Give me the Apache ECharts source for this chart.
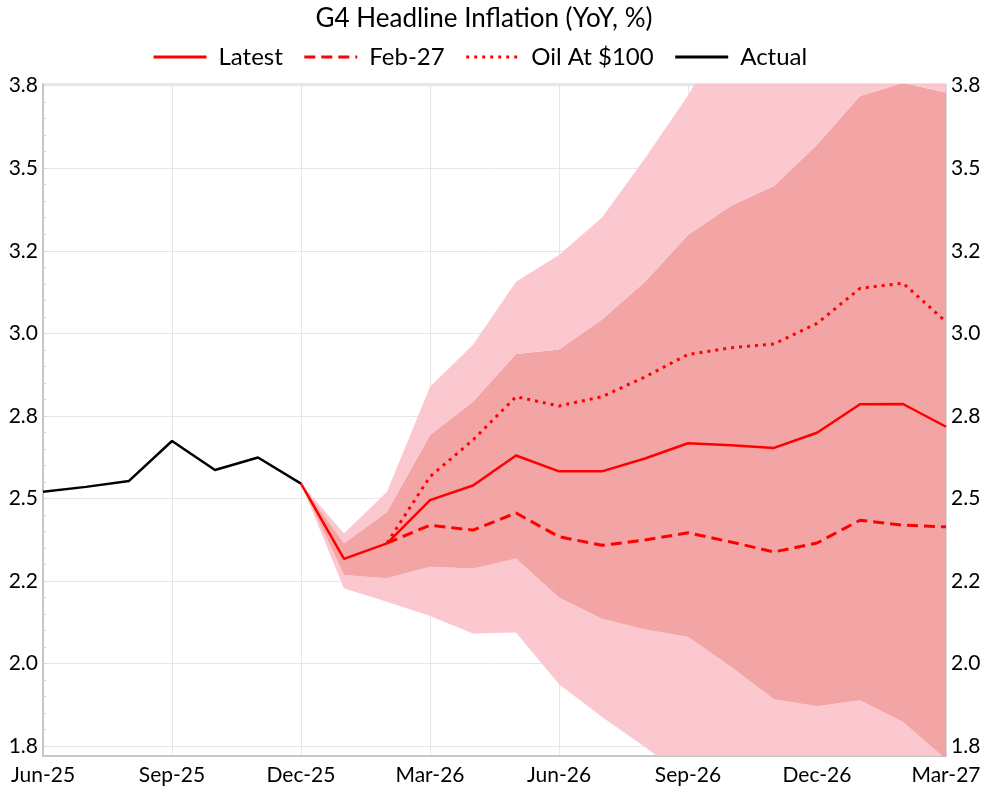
<!DOCTYPE html>
<html>
<head>
<meta charset="utf-8">
<script src="https://cdn.jsdelivr.net/npm/echarts@6/dist/echarts.min.js"></script>
<style>
  html, body { margin: 0; padding: 0; background: #fff; }
  #main { width: 985px; height: 792px; }
</style>
</head>
<body>
<div id="main"></div>
<script>
const months = ['Jun-25', 'Jul-25', 'Aug-25', 'Sep-25', 'Oct-25', 'Nov-25', 'Dec-25',
    'Jan-26', 'Feb-26', 'Mar-26', 'Apr-26', 'May-26', 'Jun-26', 'Jul-26', 'Aug-26',
    'Sep-26', 'Oct-26', 'Nov-26', 'Dec-26', 'Jan-27', 'Feb-27', 'Mar-27'];

// Jun-25 .. Dec-25
const actual = [2.52, 2.535, 2.553, 2.674, 2.586, 2.624, 2.545];
// Dec-25 .. Mar-27
const latest = [2.545, 2.317, 2.364, 2.495, 2.539, 2.630, 2.582, 2.582, 2.621, 2.667, 2.661, 2.653, 2.699, 2.785, 2.786, 2.717];
// Feb-26 .. Mar-27
const feb27 = [2.365, 2.419, 2.404, 2.456, 2.384, 2.358, 2.374, 2.396, 2.368, 2.338, 2.365, 2.434, 2.419, 2.414];
const oil100 = [2.365, 2.566, 2.677, 2.808, 2.780, 2.808, 2.868, 2.936, 2.956, 2.968, 3.030, 3.136, 3.152, 3.035];
// fan bands, Dec-25 .. Mar-27
const outerUpper = [2.545, 2.394, 2.520, 2.838, 2.965, 3.156, 3.237, 3.351, 3.53, 3.72, 3.95, 4.10, 4.25, 4.40, 4.50, 4.55];
const innerUpper = [2.545, 2.364, 2.459, 2.692, 2.793, 2.937, 2.951, 3.042, 3.156, 3.298, 3.386, 3.446, 3.571, 3.719, 3.758, 3.729];
const innerLower = [2.545, 2.268, 2.258, 2.293, 2.288, 2.318, 2.200, 2.136, 2.103, 2.081, 1.990, 1.892, 1.871, 1.889, 1.823, 1.71];
const outerLower = [2.545, 2.227, 2.187, 2.144, 2.091, 2.094, 1.937, 1.838, 1.747, 1.65, 1.58, 1.52, 1.50, 1.48, 1.42, 1.35];

const yTicks = [1.75, 2.0, 2.25, 2.5, 2.75, 3.0, 3.25, 3.5, 3.75];
const yTickLabels = ['1.8', '2.0', '2.2', '2.5', '2.8', '3.0', '3.2', '3.5', '3.8'];
const yMinorTicks = [];
for (let i = 0; i <= 40; i++) yMinorTicks.push(+(1.75 + i * 0.05).toFixed(2));

const FONT = 'Lato';
const Y_MIN = 1.72, Y_MAX = 3.755;

// pad a partial series out to the full month list
function place(arr, start) {
    return months.map((m, i) => (i >= start && i < start + arr.length) ? arr[i - start] : '-');
}
function diff(a, b) {
    return a.map((v, i) => +(v - b[i]).toFixed(4));
}

const chart = echarts.init(document.getElementById('main'));

const gridBox = { left: 43, right: 39, top: 84, bottom: 36 };

function yLabel(v) {
    const i = yTicks.findIndex(t => Math.abs(t - v) < 1e-6);
    return i >= 0 ? yTickLabels[i] : '';
}

const bandLine = { width: 0, opacity: 0 };
function band(name, data, color) {
    return {
        name: name,
        type: 'line',
        stack: 'fan',
        data: place(data, 6),
        symbol: 'none',
        lineStyle: bandLine,
        areaStyle: color ? { color: color, opacity: 1 } : undefined,
        silent: true,
        z: 1
    };
}

option = {
    animation: false,
    textStyle: { fontFamily: FONT },
    title: {
        text: 'G4 Headline Inflation (YoY, %)',
        left: 479,
        textAlign: 'center',
        top: 1,
        textStyle: { fontFamily: FONT, fontSize: 26, fontWeight: 'normal', color: '#000' }
    },
    legend: {
        data: ['Latest', 'Feb-27', 'Oil At $100', 'Actual'],
        left: 147,
        top: 40,
        itemWidth: 53,
        itemHeight: 14,
        itemGap: 20,
        itemStyle: { opacity: 0 },
        lineStyle: { width: 3 },
        textStyle: { fontFamily: FONT, fontSize: 24, color: '#000', padding: [0, 0, 0, 7] }
    },
    grid: [
        Object.assign({ show: true, borderColor: '#cfcfcf', borderWidth: 1, backgroundColor: '#fff' }, gridBox),
        Object.assign({ show: false }, gridBox)
    ],
    xAxis: [
        {
            type: 'category',
            gridIndex: 0,
            data: months,
            boundaryGap: false,
            axisLine: { lineStyle: { color: '#c6c6c6', width: 2 } },
            axisTick: { show: false, interval: 2 },
            axisLabel: { interval: 2, fontSize: 21, color: '#000', fontFamily: FONT, margin: 9 },
            splitLine: { show: true, interval: 2, lineStyle: { color: '#e6e6e6', width: 1 } }
        },
        {
            type: 'category',
            gridIndex: 1,
            data: months,
            boundaryGap: false,
            axisLine: { show: false },
            axisTick: { show: false },
            axisLabel: { show: false },
            splitLine: { show: false }
        }
    ],
    yAxis: [
        {
            type: 'value',
            gridIndex: 0,
            position: 'left',
            min: Y_MIN,
            max: Y_MAX,
            axisLine: { show: true, lineStyle: { color: '#c6c6c6', width: 2 } },
            axisTick: { show: true, inside: true, length: 3, customValues: yMinorTicks, lineStyle: { color: '#d4d4d4' } },
            axisLabel: { customValues: yTicks, formatter: yLabel, fontSize: 21, color: '#000', fontFamily: FONT, margin: 5 },
            splitLine: { show: false }
        },
        {
            type: 'value',
            gridIndex: 0,
            position: 'right',
            min: Y_MIN,
            max: Y_MAX,
            axisLine: { show: true, lineStyle: { color: '#dcdcdc', width: 1 } },
            axisTick: { show: true, inside: true, length: 3, customValues: yMinorTicks, lineStyle: { color: '#d4d4d4' } },
            axisLabel: { customValues: yTicks, formatter: yLabel, fontSize: 21, color: '#000', fontFamily: FONT, margin: 5 },
            splitLine: { show: false }
        },
        {
            // horizontal grid lines at the labelled values
            type: 'value',
            gridIndex: 1,
            position: 'left',
            min: Y_MIN,
            max: Y_MAX,
            axisLine: { show: false },
            axisTick: { show: false, customValues: yTicks },
            axisLabel: { show: false },
            splitLine: { show: true, lineStyle: { color: '#e6e6e6', width: 1 } }
        }
    ],
    series: [
        band('outerLowerBase', outerLower, null),
        band('lowerOuter', diff(innerLower, outerLower), 'rgba(252,194,203,0.9)'),
        band('inner', diff(innerUpper, innerLower), 'rgba(242,155,155,0.9)'),
        band('upperOuter', diff(outerUpper, innerUpper), 'rgba(252,194,203,0.9)'),
        {
            name: 'Actual',
            type: 'line',
            data: place(actual, 0),
            symbol: 'none',
            color: '#000',
            lineStyle: { color: '#000', width: 2.5 },
            z: 3
        },
        {
            name: 'Feb-27',
            type: 'line',
            data: place(feb27, 8),
            symbol: 'none',
            color: '#ff0000',
            lineStyle: { color: '#ff0000', width: 3, type: [11, 6] },
            z: 4
        },
        {
            name: 'Oil At $100',
            type: 'line',
            data: place(oil100, 8),
            symbol: 'none',
            color: '#ff0000',
            lineStyle: { color: '#ff0000', width: 3, type: [3, 5] },
            z: 4
        },
        {
            name: 'Latest',
            type: 'line',
            data: place(latest, 6),
            symbol: 'none',
            color: '#ff0000',
            lineStyle: { color: '#ff0000', width: 2.5 },
            z: 5
        }
    ]
};

chart.setOption(option);
</script>
</body>
</html>
